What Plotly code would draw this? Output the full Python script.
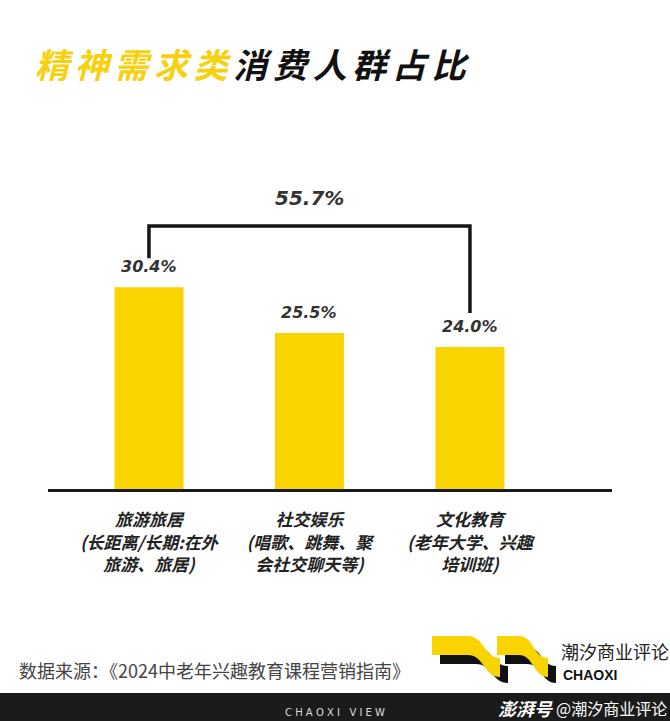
import plotly.graph_objects as go

W, H = 670, 721

# ---- data ----
categories = ["旅游旅居", "社交娱乐", "文化教育"]
values = [30.4, 25.5, 24.0]
tick_labels = [
    "旅游旅居<br>(长距离/长期:在外<br>旅游、旅居)",
    "社交娱乐<br>(唱歌、跳舞、聚<br>会社交聊天等)",
    "文化教育<br>(老年大学、兴趣<br>培训班)",
]
combined_label = "55.7%"
title_yellow = "精神需求类"
title_black = "消费人群占比"
source_text = "数据来源：《2024中老年兴趣教育课程营销指南》"

YELLOW = "#FAD400"
TITLE_YELLOW = "#F6D10F"
DARK = "#1b1b1b"
CJK = "Noto Sans CJK SC"


def px(x):
    return x / W


def py(y):
    return 1 - y / H


def pt(x, y):
    return f"{px(x):.5f},{py(y):.5f}"


fig = go.Figure()

fig.add_bar(
    x=categories, y=values, marker_color=YELLOW, marker_line_width=0,
    hoverinfo="skip", showlegend=False,
)

# bracket joining first and last category
bracket_y = [33.5, 36.95, 36.95, 27.65]
fig.add_scatter(
    x=[categories[0], categories[0], categories[2], categories[2]],
    y=bracket_y, mode="lines", line=dict(color="#151515", width=3.5),
    hoverinfo="skip", showlegend=False, cliponaxis=False,
)

annotations = []
for c, v in zip(categories, values):
    annotations.append(dict(
        x=c, y=v, xref="x", yref="y", text=f"<b><i>{v:.1f}%</i></b>",
        showarrow=False, yanchor="bottom", yshift=9,
        font=dict(family="DejaVu Sans", size=16, color="#333333"),
    ))
annotations.append(dict(
    x=categories[1], y=bracket_y[1], xref="x", yref="y",
    text=f"<b><i>{combined_label}</i></b>", showarrow=False,
    yanchor="bottom", yshift=14,
    font=dict(family="DejaVu Sans", size=20, color="#333333"),
))

# title
sp = "\u2006"
annotations.append(dict(
    x=px(33), y=py(64), xref="paper", yref="paper", xanchor="left", yanchor="middle",
    text=f"<b><i><span style='color:{TITLE_YELLOW}'>{sp.join(title_yellow)}</span>{sp}"
         f"<span style='color:#111111'>{sp.join(title_black)}</span></i></b>",
    showarrow=False, font=dict(family=CJK, size=34, weight=900),
))

# source
annotations.append(dict(
    x=px(17), y=py(670), xref="paper", yref="paper", xanchor="left", yanchor="middle",
    text=source_text, showarrow=False,
    font=dict(family=CJK, size=18, color="#444444"),
))

# brand text
annotations.append(dict(
    x=px(559), y=py(651), xref="paper", yref="paper", xanchor="left", yanchor="middle",
    text="潮汐商业评论", showarrow=False,
    font=dict(family=CJK, size=18, color="#222222"),
))
annotations.append(dict(
    x=px(561), y=py(675), xref="paper", yref="paper", xanchor="left", yanchor="middle",
    text="<b>CHAOXI</b>", showarrow=False,
    font=dict(family="Liberation Sans Narrow, Liberation Sans", size=14, color="#111111"),
))

# footer texts
annotations.append(dict(
    x=px(335), y=py(712), xref="paper", yref="paper", xanchor="center", yanchor="middle",
    text="C H A O X I   V I E W", showarrow=False,
    font=dict(family="DejaVu Sans", size=10, color="#dddddd"),
))
annotations.append(dict(
    x=px(555), y=py(708), xref="paper", yref="paper", xanchor="right", yanchor="middle",
    text="<b><i>澎湃号</i></b>", showarrow=False,
    font=dict(family=CJK, size=18, color="#ffffff", weight=900),
))
annotations.append(dict(
    x=px(669), y=py(708), xref="paper", yref="paper", xanchor="right", yanchor="middle",
    text="@潮汐商业评论", showarrow=False,
    font=dict(family=CJK, size=16, color="#ffffff"),
))


def wave(x0, y0, flat, desc, drop, thick):
    return ("M " + pt(x0, y0) + " L " + pt(x0 + flat, y0) +
            " C " + pt(x0 + flat + desc * 0.5, y0) + " " + pt(x0 + flat + desc * 0.5, y0 + drop) +
            " " + pt(x0 + flat + desc, y0 + drop) +
            " L " + pt(x0 + flat + desc, y0 + drop + thick) +
            " C " + pt(x0 + flat + desc * 0.5, y0 + drop + thick) + " " +
            pt(x0 + flat + desc * 0.5, y0 + thick) + " " + pt(x0 + flat, y0 + thick) +
            " L " + pt(x0, y0 + thick) + " Z")


shapes = [
    # footer band
    dict(type="rect", xref="paper", yref="paper", x0=0, x1=1, y0=0, y1=py(693),
         fillcolor=DARK, line_width=0, layer="below"),
]
# logo shadow then yellow
for (x0, flat, desc) in [(432, 36, 32), (497, 22, 29)]:
    shapes.append(dict(type="path", xref="paper", yref="paper",
                       path=wave(x0 + 8, 647, flat, desc, 19, 17),
                       fillcolor="#111111", line_width=0))
for (x0, flat, desc) in [(432, 36, 32), (497, 22, 29)]:
    shapes.append(dict(type="path", xref="paper", yref="paper",
                       path=wave(x0, 636, flat, desc, 22, 19),
                       fillcolor=YELLOW, line_width=0))

y0_val = 8.8
scale = 9.34  # px per unit
y_bottom_px, y_top_px = 489, 150
y_max = y0_val + (y_bottom_px - y_top_px) / scale

fig.update_layout(
    width=W, height=H, autosize=False,
    margin=dict(l=0, r=0, t=0, b=0),
    paper_bgcolor="white", plot_bgcolor="white",
    bargap=0.57,
    annotations=annotations, shapes=shapes,
    xaxis=dict(
        type="category", domain=[px(48), px(612)], range=[-0.629, 2.885],
        showline=True, linecolor="#1a1a1a", linewidth=3, showgrid=False,
        zeroline=False, ticks="", tickvals=categories,
        ticktext=[f"<b><i>{t}</i></b>" for t in tick_labels],
        tickfont=dict(family=CJK, size=17, color="#222222"),
        ticklabelstandoff=14,
    ),
    yaxis=dict(
        visible=False, range=[y0_val, y_max],
        domain=[py(y_bottom_px), py(y_top_px)],
    ),
)

fig.write_html(
    "out.html",
    config={"displayModeBar": False},
    post_script="document.body.style.margin='0px';document.body.style.overflow='hidden';",
)
